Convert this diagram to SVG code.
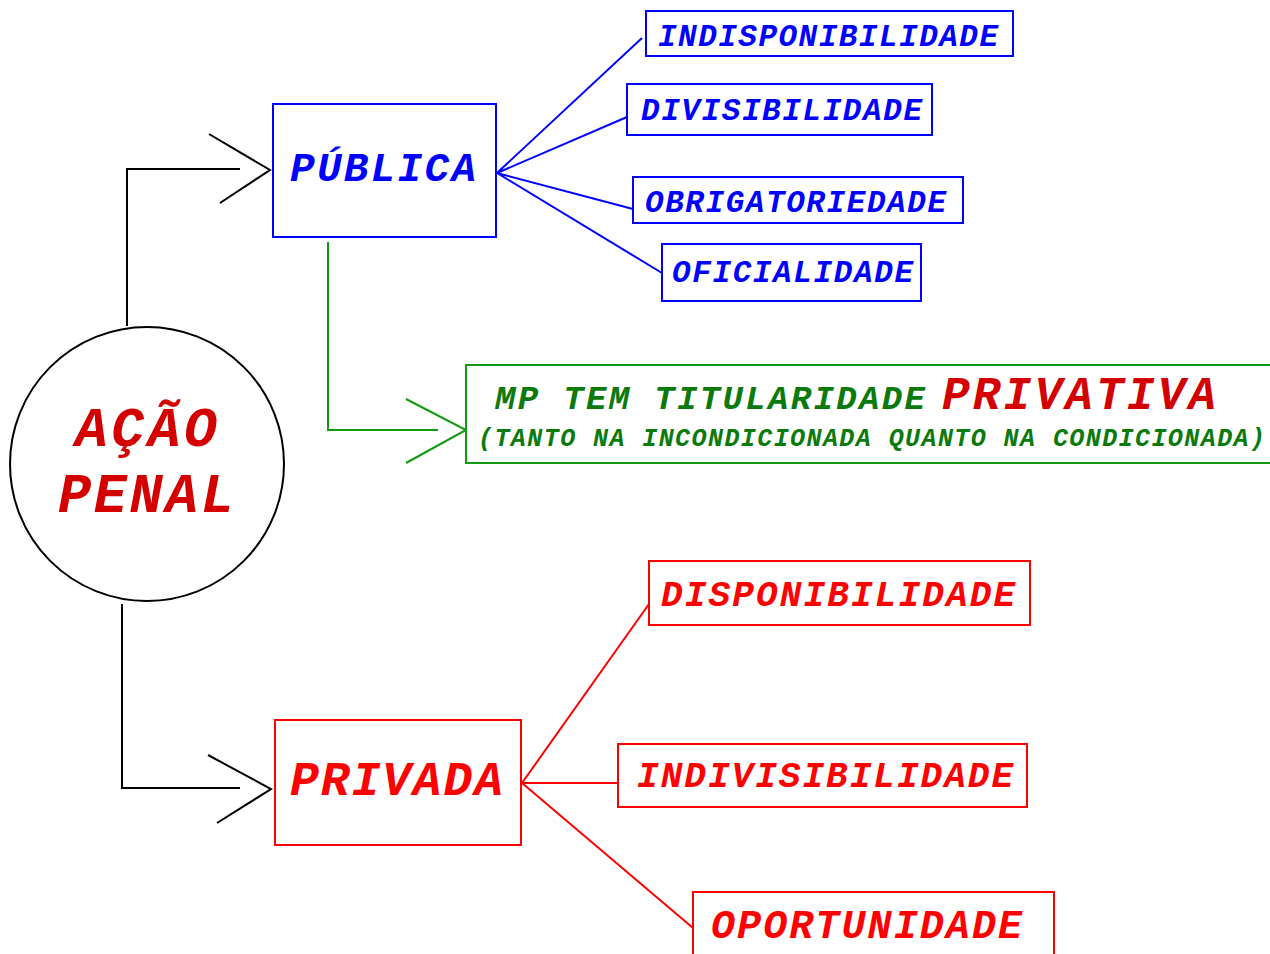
<svg xmlns="http://www.w3.org/2000/svg" width="1270" height="954" viewBox="0 0 1270 954">
<style>
text{font-family:"Liberation Mono","Courier New",monospace;font-weight:bold;font-style:italic}
.b{fill:#0000ff;font-size:31px}.r{fill:#ff0000;font-size:36px}.dr{fill:#d40000}.g{fill:#0a7a0a}
.bb{fill:#fff;stroke:#0000ff;stroke-width:2}
.rb{fill:#fff;stroke:#ff0000;stroke-width:2}
.gb{fill:#fff;stroke:#129912;stroke-width:2}
.k{fill:none;stroke:#000;stroke-width:2}
.bl{fill:none;stroke:#0000ff;stroke-width:2}
.rl{fill:none;stroke:#ff0000;stroke-width:2}
.gl{fill:none;stroke:#129912;stroke-width:2}
</style>
<rect width="1270" height="954" fill="#fff"/>
<g id="connectors">
<path class="k" d="M127 326V169H240M209 134L270 170L220 203"/>
<path class="k" d="M122 604V788H240M208 755L271 789L217 823"/>
<path class="gl" d="M328 242V430H438M406 399L466 430L406 463"/>
<path class="bl" d="M497 173L642 38M497 173L627 117M497 173L633 209M497 173L662 273"/>
<path class="rl" d="M522 783L649 604M522 783H617M522 783L693 928"/>
</g>
<g id="acao-penal">
<circle cx="147" cy="464" r="137" fill="#fff" stroke="#000" stroke-width="2"/>
<text class="dr" x="75" y="446" font-size="55" textLength="142" lengthAdjust="spacing">AÇÃO</text>
<text class="dr" x="58" y="512" font-size="55" textLength="176" lengthAdjust="spacing">PENAL</text>
</g>
<g id="publica">
<rect class="bb" x="273" y="104" width="223" height="133"/>
<text x="290" y="181" style="fill:#0000ff;font-size:41px" textLength="186" lengthAdjust="spacing">PÚBLICA</text>
</g>
<g id="indisponibilidade">
<rect class="bb" x="646" y="11" width="367" height="45"/>
<text class="b" x="658" y="46" textLength="340" lengthAdjust="spacing">INDISPONIBILIDADE</text>
</g>
<g id="divisibilidade">
<rect class="bb" x="627" y="84" width="305" height="51"/>
<text class="b" x="641" y="120" textLength="281" lengthAdjust="spacing">DIVISIBILIDADE</text>
</g>
<g id="obrigatoriedade">
<rect class="bb" x="633" y="177" width="330" height="46"/>
<text class="b" x="645" y="212" textLength="301" lengthAdjust="spacing">OBRIGATORIEDADE</text>
</g>
<g id="oficialidade">
<rect class="bb" x="662" y="244" width="259" height="57"/>
<text class="b" x="672" y="282" textLength="241" lengthAdjust="spacing">OFICIALIDADE</text>
</g>
<g id="mp-titularidade">
<rect class="gb" x="466" y="365" width="820" height="98"/>
<text class="g" x="495" y="409" font-size="34" textLength="430" lengthAdjust="spacing">MP TEM TITULARIDADE</text>
<text class="dr" x="942" y="409" font-size="46" textLength="274" lengthAdjust="spacing">PRIVATIVA</text>
<text class="g" x="478" y="446" font-size="25" textLength="787" lengthAdjust="spacing">(TANTO NA INCONDICIONADA QUANTO NA CONDICIONADA)</text>
</g>
<g id="privada">
<rect class="rb" x="275" y="720" width="246" height="125"/>
<text x="290" y="795" style="fill:#ff0000;font-size:48px" textLength="213" lengthAdjust="spacing">PRIVADA</text>
</g>
<g id="disponibilidade">
<rect class="rb" x="649" y="561" width="381" height="64"/>
<text class="r" x="661" y="606" textLength="354" lengthAdjust="spacing">DISPONIBILIDADE</text>
</g>
<g id="indivisibilidade">
<rect class="rb" x="618" y="744" width="409" height="63"/>
<text class="r" x="637" y="787" textLength="376" lengthAdjust="spacing">INDIVISIBILIDADE</text>
</g>
<g id="oportunidade">
<rect class="rb" x="693" y="892" width="361" height="80"/>
<text x="711" y="938" style="fill:#ff0000;font-size:40px" textLength="311" lengthAdjust="spacing">OPORTUNIDADE</text>
</g>
</svg>
